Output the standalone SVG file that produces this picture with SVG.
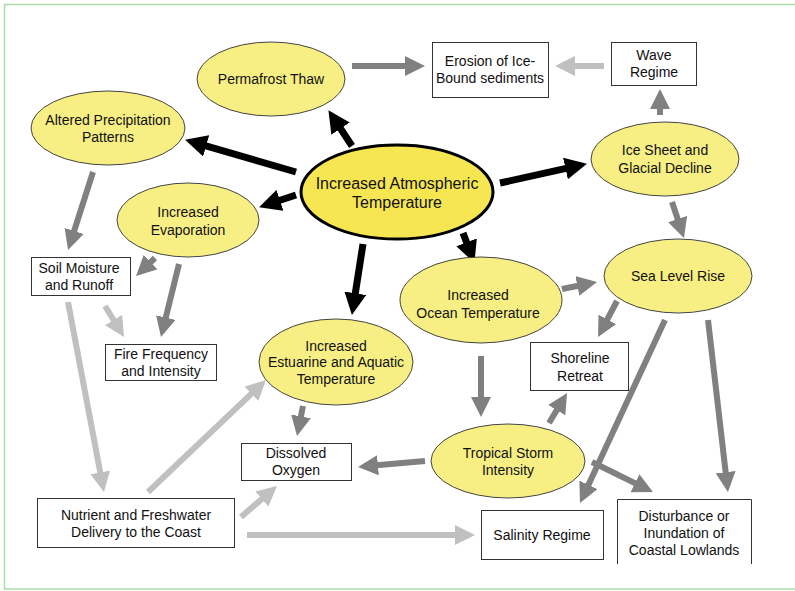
<svg xmlns="http://www.w3.org/2000/svg" width="795" height="591" viewBox="0 0 795 591">
<defs>
<marker id="hb" markerUnits="userSpaceOnUse" markerWidth="22" markerHeight="22" viewBox="0 0 22 22" refX="11" refY="11" orient="auto"><path d="M0,0 L22,11 L0,22 z" fill="#000"/></marker>
<marker id="hd" markerUnits="userSpaceOnUse" markerWidth="20" markerHeight="20" viewBox="0 0 20 20" refX="10" refY="10" orient="auto"><path d="M0,0 L20,10 L0,20 z" fill="#808080"/></marker>
<marker id="hl" markerUnits="userSpaceOnUse" markerWidth="20" markerHeight="20" viewBox="0 0 20 20" refX="10" refY="10" orient="auto"><path d="M0,0 L20,10 L0,20 z" fill="#c0c0c0"/></marker>
</defs>
<style>
text{font-family:"Liberation Sans",Arial,sans-serif;font-size:14px;fill:#111;text-anchor:middle;dominant-baseline:central}
.el{fill:#f7ef84;stroke:#444;stroke-width:1}
.bx{fill:#fff;stroke:#333;stroke-width:1}
.b{stroke:#000;stroke-width:7;fill:none;marker-end:url(#hb)}
.d{stroke:#808080;stroke-width:6;fill:none;marker-end:url(#hd)}
.l{stroke:#c0c0c0;stroke-width:6;fill:none;marker-end:url(#hl)}
</style>
<rect x="4.5" y="4.5" width="795" height="584.5" fill="#fff" stroke="#a8dca8" stroke-width="1.5"/>
<g id="connectors">
<line class="b" x1="352" y1="146" x2="334.5" y2="119.4"/>
<line class="b" x1="296" y1="172" x2="195.6" y2="142.8"/>
<line class="b" x1="296" y1="195" x2="269.5" y2="203.8"/>
<line class="b" x1="500" y1="183" x2="576.2" y2="166.2"/>
<line class="b" x1="463" y1="233" x2="470.5" y2="252.6"/>
<line class="b" x1="363" y1="244" x2="353.6" y2="304.1"/>
<line class="d" x1="352" y1="66" x2="415" y2="66"/>
<line class="d" x1="660" y1="115" x2="660" y2="99"/>
<line class="d" x1="672" y1="202" x2="680.8" y2="228.5"/>
<line class="d" x1="562" y1="289" x2="587.2" y2="284"/>
<line class="d" x1="93" y1="172" x2="71.1" y2="240.5"/>
<line class="d" x1="155" y1="258" x2="143.3" y2="269.1"/>
<line class="d" x1="179" y1="264" x2="163.4" y2="327.3"/>
<line class="d" x1="303" y1="406" x2="299" y2="426.2"/>
<line class="d" x1="425" y1="461" x2="368" y2="466.1"/>
<line class="d" x1="481" y1="356" x2="481" y2="407"/>
<line class="d" x1="549" y1="423" x2="561.9" y2="401.6"/>
<line class="d" x1="617" y1="301" x2="602.7" y2="328.2"/>
<line class="d" x1="665" y1="320" x2="584.2" y2="493.9"/>
<line class="d" x1="708" y1="320" x2="726.8" y2="482.1"/>
<line class="d" x1="592" y1="462" x2="644" y2="487.6"/>
<line class="l" x1="604" y1="66" x2="565" y2="66"/>
<line class="l" x1="105" y1="306" x2="118.8" y2="328.5"/>
<line class="l" x1="68" y1="302" x2="102.1" y2="482.2"/>
<line class="l" x1="148" y1="492" x2="258.7" y2="386.9"/>
<line class="l" x1="241" y1="517" x2="269.4" y2="492.5"/>
<line class="l" x1="247" y1="535" x2="465" y2="535"/>
</g>
<g id="permafrost"><ellipse class="el" cx="271" cy="79" rx="74" ry="37"/><text x="271" y="79">Permafrost Thaw</text></g>
<g id="precip"><ellipse class="el" cx="108" cy="128" rx="77" ry="37"/><text x="108" y="120">Altered Precipitation</text><text x="108" y="137">Patterns</text></g>
<g id="evaporation"><ellipse class="el" cx="188" cy="220" rx="71" ry="37"/><text x="188" y="212">Increased</text><text x="188" y="230">Evaporation</text></g>
<g id="atmospheric"><ellipse cx="397" cy="192" rx="96" ry="47" fill="#f6e652" stroke="#000" stroke-width="3"/><text x="397" y="183" style="font-size:16px">Increased Atmospheric</text><text x="397" y="202" style="font-size:16px">Temperature</text></g>
<g id="erosion"><rect class="bx" x="432.5" y="42.5" width="116" height="55"/><text x="490" y="61">Erosion of Ice-</text><text x="490" y="78">Bound sediments</text></g>
<g id="wave"><rect class="bx" x="611.5" y="42.5" width="85" height="43"/><text x="654" y="55">Wave</text><text x="654" y="72">Regime</text></g>
<g id="icesheet"><ellipse class="el" cx="665" cy="159" rx="74" ry="37"/><text x="665" y="150">Ice Sheet and</text><text x="665" y="168">Glacial Decline</text></g>
<g id="sealevel"><ellipse class="el" cx="678" cy="276" rx="74" ry="37"/><text x="678" y="276">Sea Level Rise</text></g>
<g id="ocean"><ellipse class="el" cx="481" cy="300" rx="81" ry="43"/><text x="478" y="295">Increased</text><text x="478" y="313">Ocean Temperature</text></g>
<g id="shoreline"><rect class="bx" x="530.5" y="342.5" width="98" height="48"/><text x="580" y="358">Shoreline</text><text x="580" y="376">Retreat</text></g>
<g id="storm"><ellipse class="el" cx="508" cy="461" rx="77" ry="37"/><text x="508" y="453">Tropical Storm</text><text x="508" y="470">Intensity</text></g>
<g id="salinity"><rect class="bx" x="481.5" y="510.5" width="122" height="49"/><text x="542" y="535">Salinity Regime</text></g>
<g id="disturbance"><path class="bx" d="M617.5,564 V499.5 H751.5 V564"/><text x="684" y="516">Disturbance or</text><text x="684" y="533">Inundation of</text><text x="684" y="550">Coastal Lowlands</text></g>
<g id="estuarine"><ellipse class="el" cx="336" cy="362" rx="77" ry="43"/><text x="336" y="346">Increased</text><text x="336" y="362">Estuarine and Aquatic</text><text x="336" y="379">Temperature</text></g>
<g id="oxygen"><rect class="bx" x="241.5" y="443.5" width="110" height="37"/><text x="296" y="453">Dissolved</text><text x="296" y="470">Oxygen</text></g>
<g id="nutrient"><rect class="bx" x="37.5" y="498.5" width="197" height="49"/><text x="136" y="515">Nutrient and Freshwater</text><text x="136" y="532">Delivery to the Coast</text></g>
<g id="fire"><rect class="bx" x="105.5" y="344.5" width="111" height="36"/><text x="161" y="354">Fire Frequency</text><text x="161" y="371">and Intensity</text></g>
<g id="soil"><rect class="bx" x="31.5" y="257.5" width="99" height="38"/><text x="79" y="268">Soil Moisture</text><text x="79" y="285">and Runoff</text></g>
</svg>
